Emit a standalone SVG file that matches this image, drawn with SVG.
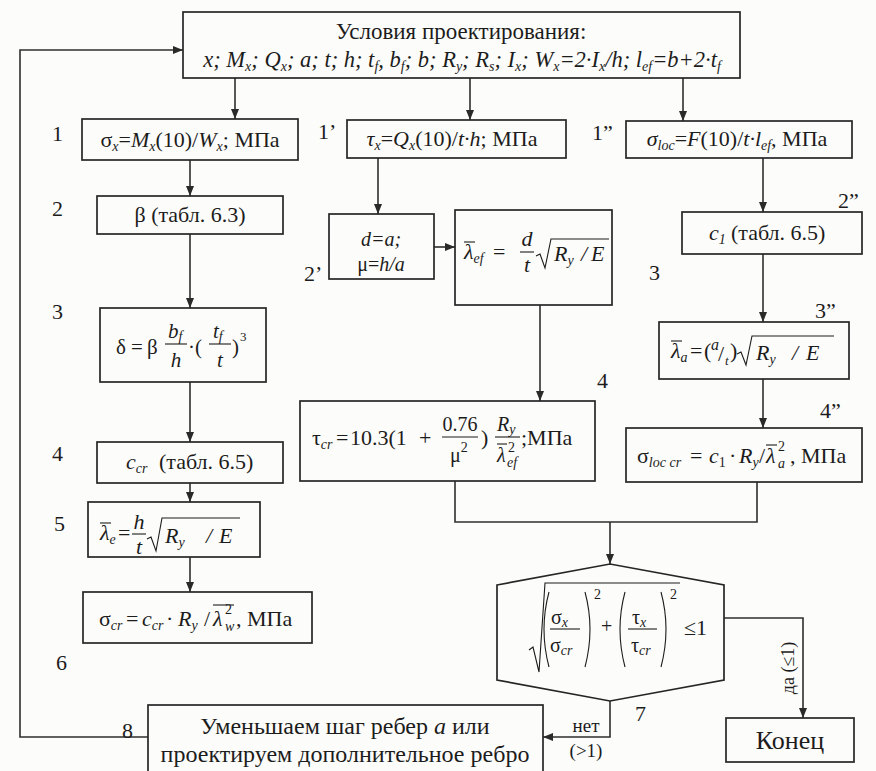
<svg xmlns="http://www.w3.org/2000/svg" width="876" height="771" viewBox="0 0 876 771">
<defs>
<style>
.bg{fill:#fcfcfa}
.box{fill:none;stroke:#262626;stroke-width:1.7}
.ln{fill:none;stroke:#2e2e2e;stroke-width:1.6}
.ar{marker-end:url(#ah)}
.m{fill:none;stroke:#1c1c1c;stroke-width:1.1}
.t{font-family:'Liberation Serif','Times New Roman',serif;font-size:22px;fill:#1c1c1c}
.c{text-anchor:middle}
.i{font-style:italic}
.sb{font-size:14px}
.lab{font-family:'Liberation Serif','Times New Roman',serif;font-size:22px;fill:#1c1c1c}
</style>
<marker id="ah" viewBox="0 0 10 8" refX="10" refY="4" markerWidth="10" markerHeight="8" markerUnits="userSpaceOnUse" orient="auto"><path d="M0,0 L10,4 L0,8 z" fill="#2a2a2a"/></marker>
</defs>
<rect class="bg" x="0" y="0" width="876" height="771"/>

<g id="connectors">
<line class="ln ar" x1="235" y1="78" x2="235" y2="119"/>
<line class="ln ar" x1="470" y1="78" x2="470" y2="120"/>
<line class="ln ar" x1="683" y1="78" x2="683" y2="121"/>
<line class="ln ar" x1="190" y1="160" x2="190" y2="196"/>
<line class="ln ar" x1="190" y1="234" x2="190" y2="308"/>
<line class="ln ar" x1="378" y1="158" x2="378" y2="214"/>
<line class="ln ar" x1="434" y1="247" x2="455" y2="247"/>
<line class="ln ar" x1="540" y1="305" x2="540" y2="401"/>
<line class="ln ar" x1="763" y1="158" x2="763" y2="212"/>
<line class="ln ar" x1="763" y1="254" x2="763" y2="322"/>
<line class="ln ar" x1="763" y1="379" x2="763" y2="428"/>
<line class="ln ar" x1="190" y1="382" x2="190" y2="442"/>
<line class="ln ar" x1="190" y1="483" x2="190" y2="502"/>
<line class="ln ar" x1="190" y1="557" x2="190" y2="592"/>
<polyline class="ln" points="455,481 455,522 757,522 757,482"/>
<line class="ln ar" x1="610" y1="522" x2="610" y2="564"/>
<polyline class="ln ar" points="724,618 803,618 803,718"/>
<polyline class="ln ar" points="610,701 610,737 543,737"/>
<polyline class="ln ar" points="148,737 20,737 20,50 183,50"/>
<text class="t" style="font-size:18px" text-anchor="middle" transform="rotate(-90 794 668)" x="794" y="668">да (≤1)</text>
<text class="t c" style="font-size:19px" x="586" y="732">нет</text>
<text class="t c" style="font-size:19px" x="586" y="757">(&gt;1)</text>
</g>

<g id="n-top">
<rect class="box" x="183" y="12" width="557" height="66"/>
<text class="t c" x="461" y="39" style="font-size:23px">Условия проектирования:</text>
<text class="t c i" x="462" y="67" style="font-size:22.5px">x; M<tspan class="sb" dy="4">x</tspan><tspan dy="-4">; Q</tspan><tspan class="sb" dy="4">x</tspan><tspan dy="-4">; a; t; h; t</tspan><tspan class="sb" dy="4">f</tspan><tspan dy="-4">, b</tspan><tspan class="sb" dy="4">f</tspan><tspan dy="-4">; b; R</tspan><tspan class="sb" dy="4">y</tspan><tspan dy="-4">; R</tspan><tspan class="sb" dy="4">s</tspan><tspan dy="-4">; I</tspan><tspan class="sb" dy="4">x</tspan><tspan dy="-4">; W</tspan><tspan class="sb" dy="4">x</tspan><tspan dy="-4">=2·I</tspan><tspan class="sb" dy="4">x</tspan><tspan dy="-4">/h; l</tspan><tspan class="sb" dy="4">ef</tspan><tspan dy="-4">=b+2·t</tspan><tspan class="sb" dy="4">f</tspan></text>
</g>

<g id="n1">
<rect class="box" x="82" y="119" width="216" height="41"/>
<text class="t c" x="190" y="147">σ<tspan class="sb i" dy="4">x</tspan><tspan dy="-4">=</tspan><tspan class="i">M</tspan><tspan class="sb i" dy="4">x</tspan><tspan dy="-4">(10)/</tspan><tspan class="i">W</tspan><tspan class="sb i" dy="4">x</tspan><tspan dy="-4">; МПа</tspan></text>
</g>

<g id="n1p">
<rect class="box" x="347" y="120" width="219" height="38"/>
<text class="t c" x="452" y="146"><tspan class="i">τ</tspan><tspan class="sb i" dy="4">x</tspan><tspan dy="-4">=</tspan><tspan class="i">Q</tspan><tspan class="sb i" dy="4">x</tspan><tspan dy="-4">(10)/</tspan><tspan class="i">t·h</tspan>; МПа</text>
</g>

<g id="n1pp">
<rect class="box" x="626" y="121" width="226" height="37"/>
<text class="t c" x="737" y="146"><tspan class="i">σ</tspan><tspan class="sb i" dy="4">loc</tspan><tspan dy="-4">=</tspan><tspan class="i">F</tspan>(10)/<tspan class="i">t·l</tspan><tspan class="sb i" dy="4">ef</tspan><tspan dy="-4">, МПа</tspan></text>
</g>

<g id="n2">
<rect class="box" x="97" y="196" width="186" height="38"/>
<text class="t c" x="190" y="222">β (табл. 6.3)</text>
</g>

<g id="n2p">
<rect class="box" x="329" y="214" width="105" height="65"/>
<text class="t c i" style="font-size:20px" x="381" y="246">d=a;</text>
<text class="t c" style="font-size:20px" x="381" y="271">μ=<tspan class="i">h/a</tspan></text>
</g>

<g id="n3p">
<rect class="box" x="455" y="210" width="157" height="95"/>
<text class="t"><tspan class="i" x="464" y="259">λ</tspan><tspan class="sb i" dy="4">ef</tspan></text>
<line class="m" x1="464" y1="242" x2="475" y2="242"/>
<text class="t" x="493" y="259">=</text>
<text class="t c i" x="527" y="246">d</text>
<line class="m" x1="520" y1="252" x2="534" y2="252"/>
<text class="t c i" x="527" y="272">t</text>
<path class="m" d="M536 256 L540 254 L545 268 L551 239 L609 239"/>
<text class="t i" x="554" y="261">R<tspan class="sb" dy="4">y</tspan><tspan dy="-4" x="581">/</tspan><tspan x="591">E</tspan></text>
</g>

<g id="n2pp">
<rect class="box" x="682" y="212" width="180" height="42"/>
<text class="t"><tspan class="i" x="709" y="240">c</tspan><tspan class="sb i" dy="4">1</tspan><tspan dy="-4" x="731">(табл. 6.5)</tspan></text>
</g>

<g id="n3">
<rect class="box" x="100" y="308" width="166" height="74"/>
<text class="t" style="font-size:21px" x="116" y="354">δ</text>
<text class="t" style="font-size:21px" x="131" y="354">=</text>
<text class="t" style="font-size:21px" x="147" y="354">β</text>
<text class="t i" style="font-size:21px" x="168" y="338">b<tspan class="sb" dy="3">f</tspan></text>
<line class="m" x1="165" y1="344" x2="187" y2="344"/>
<text class="t c i" style="font-size:21px" x="176" y="367">h</text>
<text class="t" style="font-size:21px" x="188" y="354">·</text>
<text class="t" style="font-size:21px" x="195" y="354">(</text>
<text class="t i" style="font-size:21px" x="213" y="338">t<tspan class="sb" dy="3">f</tspan></text>
<line class="m" x1="209" y1="344" x2="231" y2="344"/>
<text class="t c i" style="font-size:21px" x="220" y="367">t</text>
<text class="t" style="font-size:21px" x="232" y="354">)</text>
<text class="t" style="font-size:13px" x="240" y="341">3</text>
</g>

<g id="n3pp">
<rect class="box" x="659" y="322" width="190" height="57"/>
<text class="t"><tspan class="i" x="671" y="358">λ</tspan><tspan class="sb i" dy="4">a</tspan></text>
<line class="m" x1="671" y1="341" x2="682" y2="341"/>
<text class="t" x="690" y="358">=</text>
<text class="t" x="704" y="358">(</text>
<text class="t i" style="font-size:16px" x="711" y="350">a</text>
<text class="t" x="718" y="361">/</text>
<text class="t i" style="font-size:13px" x="725" y="365">t</text>
<text class="t" x="730" y="358">)</text>
<path class="m" d="M737 354 L741 352 L746 365 L752 336 L834 336"/>
<text class="t i" x="756" y="360">R<tspan class="sb" dy="4">y</tspan><tspan dy="-4" x="792">/</tspan><tspan x="806">E</tspan></text>
</g>

<g id="n4p">
<rect class="box" x="300" y="401" width="295" height="80"/>
<text class="t"><tspan x="312" y="445">τ</tspan><tspan class="sb i" dy="4">cr</tspan><tspan dy="-4" x="336">=</tspan><tspan x="350">10.3(1</tspan><tspan x="419">+</tspan></text>
<text class="t c" style="font-size:20px" x="460" y="431">0.76</text>
<line class="m" x1="442" y1="437" x2="478" y2="437"/>
<text class="t" style="font-size:20px" x="450" y="462">μ<tspan class="sb" dy="-10">2</tspan></text>
<text class="t" x="481" y="445">)</text>
<text class="t i" style="font-size:20px" x="497" y="431">R<tspan class="sb" dy="3">y</tspan></text>
<line class="m" x1="495" y1="437" x2="520" y2="437"/>
<text class="t" style="font-size:20px"><tspan class="i" x="497" y="462">λ</tspan><tspan class="sb" x="508" y="452">2</tspan><tspan class="sb i" x="507" y="467">ef</tspan></text>
<line class="m" x1="497" y1="444" x2="507" y2="444"/>
<text class="t" x="521" y="445">;МПа</text>
</g>

<g id="n4pp">
<rect class="box" x="626" y="428" width="236" height="54"/>
<text class="t"><tspan x="637" y="463">σ</tspan><tspan class="sb i" dy="4">loc cr</tspan><tspan dy="-4" x="690">=</tspan><tspan class="i" x="709">c</tspan><tspan class="sb" dy="4">1</tspan><tspan dy="-4" x="729">·</tspan><tspan class="i" x="739">R</tspan><tspan class="sb i" dy="4">y</tspan><tspan dy="-4" x="759">/</tspan><tspan class="i" x="766">λ</tspan><tspan class="sb" x="778" y="451">2</tspan><tspan class="sb i" x="778" y="468">a</tspan><tspan x="790" y="463">, МПа</tspan></text>
<line class="m" x1="766" y1="445" x2="777" y2="445"/>
</g>

<g id="n4">
<rect class="box" x="97" y="442" width="186" height="41"/>
<text class="t"><tspan class="i" x="126" y="469">c</tspan><tspan class="sb i" dy="4">cr</tspan><tspan dy="-4" x="159">(табл. 6.5)</tspan></text>
</g>

<g id="n5">
<rect class="box" x="88" y="502" width="172" height="55"/>
<text class="t"><tspan class="i" x="100" y="540">λ</tspan><tspan class="sb i" dy="4">e</tspan></text>
<line class="m" x1="100" y1="523" x2="111" y2="523"/>
<text class="t" x="118" y="540">=</text>
<text class="t c i" x="139" y="529">h</text>
<line class="m" x1="132" y1="534" x2="146" y2="534"/>
<text class="t c i" x="139" y="554">t</text>
<path class="m" d="M147 539 L151 537 L156 551 L162 518 L240 518"/>
<text class="t i" x="165" y="543">R<tspan class="sb" dy="4">y</tspan><tspan dy="-4" x="206">/</tspan><tspan x="219">E</tspan></text>
</g>

<g id="n6">
<rect class="box" x="83" y="592" width="229" height="51"/>
<text class="t"><tspan x="99" y="626">σ</tspan><tspan class="sb i" dy="4">cr</tspan><tspan dy="-4" x="126">=</tspan><tspan class="i" x="142">c</tspan><tspan class="sb i" dy="4">cr</tspan><tspan dy="-4" x="166">·</tspan><tspan class="i" x="178">R</tspan><tspan class="sb i" dy="4">y</tspan><tspan dy="-4" x="204">/</tspan><tspan class="i" x="213">λ</tspan><tspan class="sb" x="225" y="614">2</tspan><tspan class="sb i" x="225" y="631">w</tspan><tspan x="236" y="626">, МПа</tspan></text>
<line class="m" x1="213" y1="605" x2="234" y2="605"/>
</g>

<g id="n7">
<polygon class="box" points="497,585 610,564 724,585 724,680 610,701 497,680"/>
<path class="m" d="M529 650 L533 647 L539 672 L545 583 L680 583"/>
<path class="m" d="M549 592 Q539 629 549 667"/>
<path class="m" d="M585 592 Q595 629 585 667"/>
<path class="m" d="M625 592 Q615 629 625 667"/>
<path class="m" d="M661 592 Q671 629 661 667"/>
<text class="t" style="font-size:20px" x="551" y="624">σ<tspan class="sb i" dy="3">x</tspan></text>
<line class="m" x1="550" y1="629" x2="580" y2="629"/>
<text class="t" style="font-size:20px" x="550" y="652">σ<tspan class="sb i" dy="3">cr</tspan></text>
<text class="t" style="font-size:14px" x="594" y="599">2</text>
<text class="t" style="font-size:20px" x="601" y="633">+</text>
<text class="t" style="font-size:20px" x="632" y="624">τ<tspan class="sb i" dy="3">x</tspan></text>
<line class="m" x1="628" y1="629" x2="657" y2="629"/>
<text class="t" style="font-size:20px" x="631" y="652">τ<tspan class="sb i" dy="3">cr</tspan></text>
<text class="t" style="font-size:14px" x="670" y="599">2</text>
<text class="t" style="font-size:22px" x="684" y="635">≤1</text>
</g>

<g id="n8">
<rect class="box" x="148" y="705" width="395" height="72"/>
<text class="t c" style="font-size:24px" x="345" y="734">Уменьшаем шаг ребер <tspan class="i">a</tspan> или</text>
<text class="t c" style="font-size:24px" x="345" y="762">проектируем дополнительное ребро</text>
</g>

<g id="n-end">
<rect class="box" x="726" y="718" width="128" height="44"/>
<text class="t c" style="font-size:26px" x="790" y="749">Конец</text>
</g>

<g id="labels">
<text class="lab" x="52" y="141">1</text>
<text class="lab" x="52" y="216">2</text>
<text class="lab" x="52" y="319">3</text>
<text class="lab" x="52" y="461">4</text>
<text class="lab" x="54" y="531">5</text>
<text class="lab" x="56" y="670">6</text>
<text class="lab" x="318" y="139">1’</text>
<text class="lab" x="304" y="281">2’</text>
<text class="lab" x="649" y="280">3</text>
<text class="lab" x="597" y="388">4</text>
<text class="lab" x="592" y="140">1”</text>
<text class="lab" x="838" y="208">2”</text>
<text class="lab" x="815" y="318">3”</text>
<text class="lab" x="820" y="418">4”</text>
<text class="lab" x="635" y="721">7</text>
<text class="lab" x="122" y="738">8</text>
</g>
</svg>
